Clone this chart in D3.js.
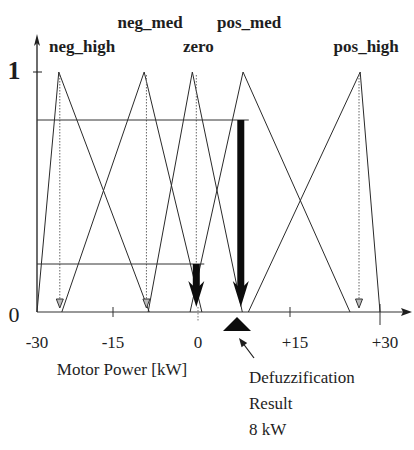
<!DOCTYPE html>
<html>
<head>
<meta charset="utf-8">
<script src="https://cdn.jsdelivr.net/npm/d3@7"></script>
<style>
  html, body { margin: 0; padding: 0; background: #fff; }
  svg { display: block; font-family: "Liberation Serif", "DejaVu Serif", serif; }
</style>
</head>
<body>
<svg id="chart" width="414" height="450"></svg>
<script>
// Output fuzzy sets for motor power (kW): triangle feet and apex
const setNames  = ["neg_high", "neg_med", "zero", "pos_med", "pos_high"];
const setLeft   = [-30.0, -25.1, -8.8, -1.4,  9.5];
const setPeak   = [-25.7,  -9.5, -1.0,  8.8, 26.7];
const setRight  = [ -8.6,   0.8,  8.7, 25.0, 30.0];
// Singleton positions used for the centroid arrows
const setCentre = [-25.5,  -9.1, -0.3,  8.5, 26.5];
// Rule firing strength of each set
const firing    = [0, 0, 0.2, 0.8, 0];

const tickValues = [-30, -15, 0, 15, 30];
const tickLabels = ["-30", "-15", "0", "+15", "+30"];
const yTickValues = [0, 1];
const yTickLabels = ["0", "1"];

const resultValue = 8;
const resultLines = ["Defuzzification", "Result", "8 kW"];
const axisTitle = "Motor Power [kW]";

const svg = d3.select("#chart");

// Hand-drawn axis is not uniform: piecewise-linear scale through its knots
const x = d3.scaleLinear()
  .domain([-30, -15, 0, resultValue, 15, 30])
  .range([37, 113, 198, 237, 290, 380]);
const y = d3.scaleLinear().domain([0, 1]).range([312, 72]);

const ink = "#1e1e1e";

// ---- axes ----
const axes = svg.append("g");
axes.append("line")
  .attr("x1", x(-30)).attr("x2", 404)
  .attr("y1", y(0)).attr("y2", y(0))
  .attr("stroke", "#333").attr("stroke-width", 1.1);
axes.append("path")
  .attr("d", `M412,${y(0)} L401,${y(0) - 4} L403,${y(0)} L401,${y(0) + 4} Z`)
  .attr("fill", ink);
axes.append("line")
  .attr("x1", x(-30)).attr("x2", x(-30))
  .attr("y1", y(0)).attr("y2", 42)
  .attr("stroke", ink).attr("stroke-width", 1.3);
axes.append("path")
  .attr("d", `M${x(-30)},34 L${x(-30) - 3},46 L${x(-30)},43 L${x(-30) + 3},46 Z`)
  .attr("fill", ink);

// y tick at 1
axes.append("line")
  .attr("x1", x(-30) - 4).attr("x2", x(-30) + 5)
  .attr("y1", y(1)).attr("y2", y(1))
  .attr("stroke", ink).attr("stroke-width", 1);

// x ticks
axes.selectAll(".xtick").data(tickValues.filter(d => d !== -30)).join("line")
  .attr("class", "xtick")
  .attr("x1", d => x(d)).attr("x2", d => x(d))
  .attr("y1", d => d === 30 ? y(0) - 8 : y(0) - 5)
  .attr("y2", d => d === 30 ? y(0) + 13 : (d === 0 ? y(0) + 10 : y(0) + 5))
  .attr("stroke", d => d === 0 ? "#777" : "#333")
  .attr("stroke-dasharray", d => d === 0 ? "1.5,1.5" : null)
  .attr("stroke-width", 1);

axes.selectAll(".xlab").data(tickValues).join("text")
  .attr("class", "xlab")
  .attr("x", (d, i) => x(d) + (tickLabels[i].startsWith("+") ? 5 : 0))
  .attr("y", 348)
  .attr("text-anchor", "middle")
  .attr("font-size", 17)
  .attr("fill", ink)
  .text((d, i) => tickLabels[i]);

axes.selectAll(".ylab").data(yTickValues).join("text")
  .attr("class", "ylab")
  .attr("x", 14)
  .attr("y", d => y(d) + (d === 1 ? 7 : 10))
  .attr("text-anchor", "middle")
  .attr("font-size", d => d === 1 ? 26 : 22)
  .attr("font-weight", d => d === 1 ? "bold" : "normal")
  .attr("fill", ink)
  .text((d, i) => yTickLabels[i]);

axes.append("text")
  .attr("x", 122).attr("y", 375)
  .attr("text-anchor", "middle")
  .attr("font-size", 17)
  .attr("fill", ink)
  .text(axisTitle);

// ---- membership triangles ----
const sets = setNames.map((name, i) => ({
  name, left: setLeft[i], peak: setPeak[i], right: setRight[i],
  centre: setCentre[i], mu: firing[i], i
}));

const line = d3.line().x(d => x(d[0])).y(d => y(d[1]));
svg.append("g").selectAll("path").data(sets).join("path")
  .attr("d", d => line([[d.left, 0], [d.peak, 1], [d.right, 0]]))
  .attr("fill", "none")
  .attr("stroke", "#2a2a2a")
  .attr("stroke-width", 1);

// dotted centre lines with small arrowheads
const dots = svg.append("g");
dots.selectAll("line").data(sets.filter(d => d.mu === 0 || d.name === "zero")).join("line")
  .attr("x1", d => x(d.centre)).attr("x2", d => x(d.centre))
  .attr("y1", y(1) + 3).attr("y2", y(0) - 10)
  .attr("stroke", "#666")
  .attr("stroke-width", 1)
  .attr("stroke-dasharray", "1.5,1.5");
dots.selectAll("path").data(sets.filter(d => d.mu === 0)).join("path")
  .attr("d", d => {
    const cx = x(d.centre), b = y(0) - 4;
    return `M${cx - 3.5},${b - 9} L${cx + 3.5},${b - 9} L${cx},${b} Z`;
  })
  .attr("fill", "#bbb")
  .attr("stroke", "#333")
  .attr("stroke-width", 1);

// ---- firing levels: horizontal cut lines and heavy arrows ----
const fired = sets.filter(d => d.mu > 0);
const cut = svg.append("g");
cut.selectAll("line").data(fired).join("line")
  .attr("x1", x(-30)).attr("x2", d => x(d.centre) + 8)
  .attr("y1", d => y(d.mu)).attr("y2", d => y(d.mu))
  .attr("stroke", "#333")
  .attr("stroke-width", 1);
cut.selectAll("rect").data(fired).join("rect")
  .attr("x", d => x(d.centre) - 3.5)
  .attr("width", 7)
  .attr("y", d => y(d.mu))
  .attr("height", d => 288 - y(d.mu))
  .attr("fill", "#0c0c0c");
cut.selectAll("path").data(fired).join("path")
  .attr("d", d => {
    const cx = x(d.centre);
    return `M${cx - 8},${281} L${cx - 3},${286} L${cx + 3},${286} L${cx + 8},${281} L${cx},${y(0) - 5} Z`;
  })
  .attr("fill", "#0c0c0c");

// ---- set labels, alternating heights ----
svg.append("g").selectAll("text").data(sets).join("text")
  .attr("text-anchor", "middle")
  .attr("font-size", 17)
  .attr("font-weight", "bold")
  .attr("fill", ink)
  .attr("y", d => d.i % 2 === 1 ? 28 : 52)
  .text(d => d.name)
  .attr("x", function(d) {
    const w = this.getComputedTextLength();
    return Math.max(x(d.peak) + 6, x(-30) + 12 + w / 2);
  });

// ---- defuzzification result marker ----
const rx = x(resultValue);
svg.append("path")
  .attr("d", `M${rx},${y(0) + 5} L${rx + 14},${y(0) + 19} L${rx - 14},${y(0) + 19} Z`)
  .attr("fill", "#0c0c0c");

// pointer from the caption to the marker
const p0 = [rx + 17, 358], p1 = [rx + 2, 338];
svg.append("line")
  .attr("x1", p0[0]).attr("y1", p0[1])
  .attr("x2", p1[0] + 3).attr("y2", p1[1] + 4)
  .attr("stroke", ink).attr("stroke-width", 1.2);
{
  const dx = p1[0] - p0[0], dy = p1[1] - p0[1];
  const len = Math.hypot(dx, dy), ux = dx / len, uy = dy / len;
  const bx = p1[0] - ux * 9, by = p1[1] - uy * 9;
  svg.append("path")
    .attr("d", `M${p1[0]},${p1[1]} L${bx - uy * 3.5},${by + ux * 3.5} L${bx + uy * 3.5},${by - ux * 3.5} Z`)
    .attr("fill", ink);
}

svg.append("g").selectAll("text").data(resultLines).join("text")
  .attr("x", rx + 12)
  .attr("y", (d, i) => 383 + i * 26)
  .attr("font-size", 17)
  .attr("fill", ink)
  .text(d => d);
</script>
</body>
</html>
